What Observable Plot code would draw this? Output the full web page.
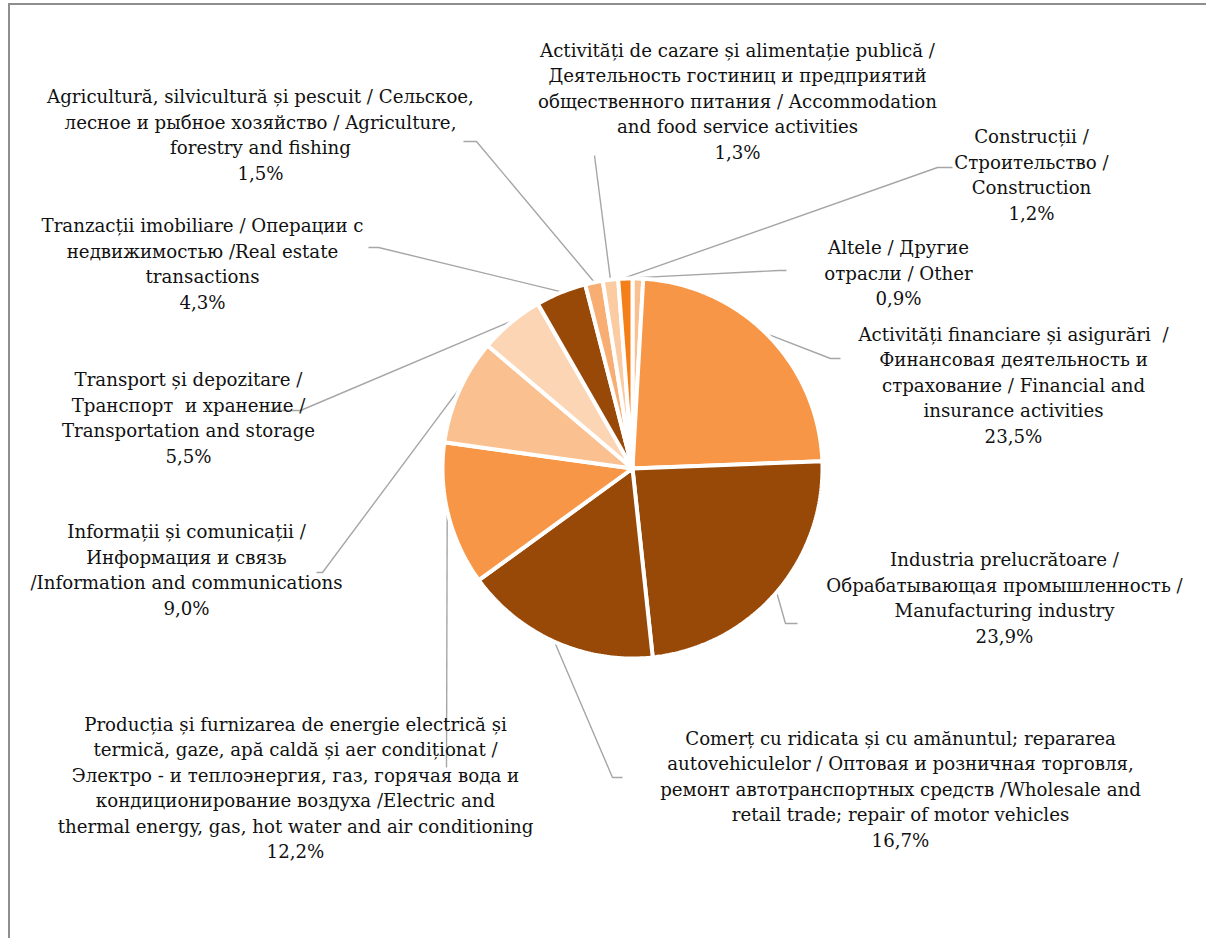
<!DOCTYPE html>
<html>
<head>
<meta charset="utf-8">
<script src="https://cdn.jsdelivr.net/npm/d3@7"></script>
<script src="https://cdn.jsdelivr.net/npm/@observablehq/plot@0.6"></script>
<style>
  html, body { margin: 0; padding: 0; background: #fff; }
  #wrap { position: relative; width: 1206px; height: 938px; overflow: hidden; }
  #frame { position: absolute; left: 8px; top: 3px; width: 1300px; height: 1000px;
           border-left: 2px solid #8e8e8e; border-top: 2px solid #8e8e8e; box-sizing: border-box; }
  #chart { position: absolute; left: 0; top: 0; }
</style>
</head>
<body>
<div id="wrap"><div id="frame"></div><div id="chart"></div></div>
<script>
// Sectors in clockwise order starting at 12 o'clock
const categories = [
  "Altele / Другие\nотрасли / Other",
  "Activități financiare și asigurări  /\nФинансовая деятельность и\nстрахование / Financial and\ninsurance activities",
  "Industria prelucrătoare /\nОбрабатывающая промышленность /\nManufacturing industry",
  "Comerț cu ridicata și cu amănuntul; repararea\nautovehiculelor / Оптовая и розничная торговля,\nремонт автотранспортных средств /Wholesale and\nretail trade; repair of motor vehicles",
  "Producția și furnizarea de energie electrică și\ntermică, gaze, apă caldă și aer condiționat /\nЭлектро - и теплоэнергия, газ, горячая вода и\nкондиционирование воздуха /Electric and\nthermal energy, gas, hot water and air conditioning",
  "Informații și comunicații /\nИнформация и связь\n/Information and communications",
  "Transport și depozitare /\nТранспорт  и хранение /\nTransportation and storage",
  "Tranzacții imobiliare / Операции с\nнедвижимостью /Real estate\ntransactions",
  "Agricultură, silvicultură și pescuit / Сельское,\nлесное и рыбное хозяйство / Agriculture,\nforestry and fishing",
  "Activități de cazare și alimentație publică /\nДеятельность гостиниц и предприятий\nобщественного питания / Accommodation\nand food service activities",
  "Construcții /\nСтроительство /\nConstruction"
];
const values = [0.9, 23.5, 23.9, 16.7, 12.2, 9.0, 5.5, 4.3, 1.5, 1.3, 1.2];
const colors = ["#FAC090", "#F79646", "#984807", "#984807", "#F79646", "#FAC090",
                "#FCD5B5", "#984807", "#F8AD72", "#FBCBA2", "#F47F18"];

// Layout (pixels): pie centre/radius, label centres, leader-line elbows/ends
const pie = {cx: 632, cy: 468, r: 190};
const labelPos = [
  [898, 271], [1013, 383], [1004, 596], [900, 787], [295, 786], [186, 568],
  [188, 416], [202, 262], [260, 133], [737, 99], [1031, 173]
];
const leaderEnds = [
  [[778, 270], [786, 270]],
  [[830, 358], [840, 358]],
  [[785, 623], [797, 623]],
  [[612, 777], [622, 777]],
  [[446, 767]],
  [[322, 572], [316, 572]],
  [[300, 410], [268, 410]],
  [[378, 247], [368, 247]],
  [[476, 141], [463, 141]],
  [[594, 155]],
  [[937, 167], [952, 167]]
];

const total = d3.sum(values);
const cum = d3.cumsum(values);
const slices = values.map((v, i) => {
  const a0 = ((cum[i] - v) / total) * 2 * Math.PI;
  const a1 = (cum[i] / total) * 2 * Math.PI;
  return {i, v, a0, a1, mid: (a0 + a1) / 2};
});

const toXY = (a, rr) => [pie.cx + rr * Math.sin(a), pie.cy - rr * Math.cos(a)];

// polygon points for each slice
const slicePts = [];
for (const s of slices) {
  slicePts.push({i: s.i, x: pie.cx, y: pie.cy});
  const n = Math.max(2, Math.ceil((s.a1 - s.a0) / (Math.PI / 180)));
  for (let k = 0; k <= n; k++) {
    const a = s.a0 + (s.a1 - s.a0) * k / n;
    const [x, y] = toXY(a, pie.r);
    slicePts.push({i: s.i, x, y});
  }
}

// leader lines
const leaderPts = [];
for (const s of slices) {
  const [x0, y0] = toXY(s.mid, pie.r + 1);
  leaderPts.push({i: s.i, x: x0, y: y0});
  for (const [x, y] of leaderEnds[s.i]) leaderPts.push({i: s.i, x, y});
}

const fmt = v => v.toFixed(1).replace(".", ",") + "%";
const labels = categories.map((c, i) => ({
  text: c + "\n" + fmt(values[i]),
  x: labelPos[i][0], y: labelPos[i][1]
}));

const chart = Plot.plot({
  width: 1206,
  height: 938,
  margin: 0,
  x: {domain: [0, 1206], range: [0, 1206], axis: null},
  y: {domain: [0, 938], range: [0, 938], axis: null},
  style: {background: "transparent", fontFamily: "'DejaVu Serif', serif"},
  marks: [
    Plot.line(leaderPts, {x: "x", y: "y", z: "i", stroke: "#A6A6A6", strokeWidth: 1.4,
      strokeLinecap: "butt", strokeLinejoin: "miter", curve: "linear"}),
    Plot.line(slicePts, {x: "x", y: "y", z: "i", fill: d => colors[d.i], stroke: "#fff",
      strokeWidth: 4, strokeLinejoin: "miter", curve: "linear-closed"}),
    Plot.text(labels, {x: "x", y: "y", text: "text", fontSize: 18.2, lineHeight: 1.4,
      fill: "#111", textAnchor: "middle", lineAnchor: "middle"})
  ]
});
document.getElementById("chart").appendChild(chart);
</script>
</body>
</html>
